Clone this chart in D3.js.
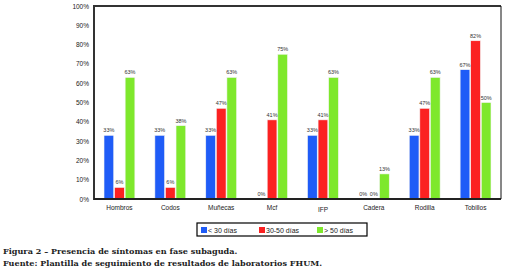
<!DOCTYPE html>
<html>
<head>
<meta charset="utf-8">
<script src="https://cdn.jsdelivr.net/npm/d3@7"></script>
<style>
  body { margin: 0; background: #fff; }
  svg text { font-family: "Liberation Sans", Arial, sans-serif; }
</style>
</head>
<body>
<svg id="chart" width="509" height="270"></svg>
<script>
var categories = ["Hombros", "Codos", "Muñecas", "Mcf", "IFP", "Cadera", "Rodilla", "Tobillos"];
var seriesNames = ["< 30 días", "30-50 días", "> 50 días"];
var menos30 = [33, 33, 33, 0, 33, 0, 33, 67];
var entre30y50 = [6, 6, 47, 41, 41, 0, 47, 82];
var mas50 = [63, 38, 63, 75, 63, 13, 63, 50];
var yTicks = [0, 10, 20, 30, 40, 50, 60, 70, 80, 90, 100];
var colors = ["#1f5cf7", "#fb2121", "#7ee82c"];

var margin = {top: 6, right: 8, bottom: 71, left: 94},
    width = 509 - margin.left - margin.right,
    height = 270 - margin.top - margin.bottom;

var svg = d3.select("#chart");
var g = svg.append("g")
    .attr("transform", `translate(${margin.left}, ${margin.top})`);

var series = [menos30, entre30y50, mas50];
var data = [];
categories.forEach(function (c, i) {
  series.forEach(function (s, j) {
    data.push({cat: c, key: seriesNames[j], value: s[i], idx: j});
  });
});

var x = d3.scaleBand().domain(categories).range([0, width]).paddingInner(0.36).paddingOuter(0.18);
var xs = d3.scaleBand().domain(seriesNames).range([0, x.bandwidth()]).padding(0.08);
var y = d3.scaleLinear().domain([0, 100]).range([height, 0]);

// y axis labels
var yAxis = g.append("g")
    .call(d3.axisLeft(y).tickValues(yTicks).tickFormat(d => d + "%").tickSize(0).tickPadding(5));
yAxis.select(".domain").remove();
yAxis.selectAll("text").attr("font-size", 6.5).attr("fill", "#222");

// bars
g.selectAll("rect.bar")
  .data(data)
  .enter().append("rect")
  .attr("class", "bar")
  .attr("x", d => x(d.cat) + xs(d.key))
  .attr("y", d => y(d.value))
  .attr("width", xs.bandwidth())
  .attr("height", d => height - y(d.value))
  .attr("fill", d => colors[d.idx])
  .attr("stroke", "#f4f4f4")
  .attr("stroke-width", 0.6);

// value labels
g.selectAll("text.val")
  .data(data)
  .enter().append("text")
  .attr("class", "val")
  .attr("x", d => x(d.cat) + xs(d.key) + xs.bandwidth() / 2)
  .attr("y", d => y(d.value) - 3)
  .attr("text-anchor", "middle")
  .attr("font-size", 5.5)
  .attr("fill", "#333")
  .text(d => d.value + "%");

// frame
g.append("line").attr("x1", 0).attr("x2", width).attr("y1", 0).attr("y2", 0)
  .attr("stroke", "#333").attr("stroke-width", 2);
g.append("line").attr("x1", 0).attr("x2", 0).attr("y1", -1).attr("y2", height + 1)
  .attr("stroke", "#333").attr("stroke-width", 2);
g.append("line").attr("x1", 0).attr("x2", width).attr("y1", height).attr("y2", height)
  .attr("stroke", "#222").attr("stroke-width", 2);
g.append("line").attr("x1", width).attr("x2", width).attr("y1", 0).attr("y2", height)
  .attr("stroke", "#111").attr("stroke-width", 1);

// x axis labels
var xAxis = g.append("g")
    .attr("transform", `translate(0, ${height})`)
    .call(d3.axisBottom(x).tickSize(0).tickPadding(6));
xAxis.select(".domain").remove();
xAxis.selectAll("text").attr("font-size", 6.5).attr("fill", "#222")
  .attr("dy", d => d == "IFP" ? "1.1em" : "0.71em");

// legend
var legend = svg.append("g").attr("transform", "translate(197, 223)");
legend.append("rect").attr("width", 170).attr("height", 13)
  .attr("fill", "#fff").attr("stroke", "#000").attr("stroke-width", 1.2);
var legX = [4, 62, 120];
seriesNames.forEach(function (n, i) {
  legend.append("rect").attr("x", legX[i]).attr("y", 4).attr("width", 6).attr("height", 6)
    .attr("fill", colors[i]);
  legend.append("text").attr("x", legX[i] + 7).attr("y", 9.8)
    .attr("font-size", 7).attr("fill", "#222").text(n);
});

// caption
var cap = svg.append("g").attr("font-weight", "bold").attr("font-size", 8.1).attr("fill", "#222");
cap.append("text").attr("x", 3).attr("y", 254).style("font-family", "'DejaVu Serif', serif")
  .text("Figura 2 – Presencia de síntomas en fase subaguda.");
cap.append("text").attr("x", 3).attr("y", 266).style("font-family", "'DejaVu Serif', serif")
  .text("Fuente: Plantilla de seguimiento de resultados de laboratorios FHUM.");
</script>
</body>
</html>
